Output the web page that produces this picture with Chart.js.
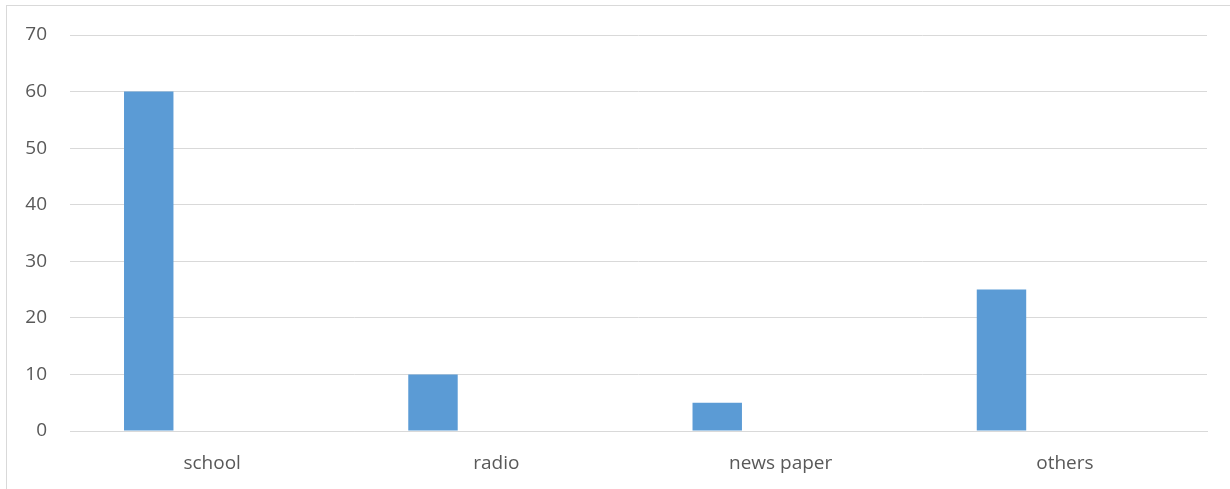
<!DOCTYPE html>
<html>
<head>
<meta charset="utf-8">
<title>Sources</title>
<script src="https://cdn.jsdelivr.net/npm/chart.js@4/dist/chart.umd.min.js"></script>
<style>
    html, body { margin: 0; padding: 0; background: #ffffff; }
    #wrap { width: 1230px; height: 489px; position: relative; }
</style>
</head>
<body>
<div id="wrap"><canvas id="sourceChart"></canvas></div>
<script>
const sources = ['school', 'radio', 'news paper', 'others'];
const percentValues = [60, 10, 5, 25];
const secondValues = [null, null, null, null];
const yTicks = [0, 10, 20, 30, 40, 50, 60, 70];

// light frame around the chart area
const frame = {
    id: 'frame',
    beforeDraw(chart) {
        const ctx = chart.ctx;
        ctx.save();
        ctx.strokeStyle = '#d9d9d9';
        ctx.lineWidth = 1;
        ctx.strokeRect(6.5, 5.5, chart.width + 10, chart.height + 10);
        ctx.restore();
    }
};

document.addEventListener("DOMContentLoaded", function () {
    const ctx = document.getElementById('sourceChart').getContext('2d');
    new Chart(ctx, {
        type: 'bar',
        data: {
            labels: sources,
            datasets: [{
                label: 'Series1',
                data: percentValues,
                backgroundColor: '#5b9bd5',
                borderWidth: 0,
                categoryPercentage: 0.892,
                barPercentage: 0.39
            }, {
                label: 'Series2',
                data: secondValues,
                backgroundColor: '#ed7d31',
                borderWidth: 0,
                categoryPercentage: 0.892,
                barPercentage: 0.39
            }]
        },
        options: {
            responsive: true,
            maintainAspectRatio: false,
            animation: false,
            layout: {
                padding: { top: 35, right: 23, left: 0, bottom: 0 }
            },
            plugins: {
                legend: { display: false },
                tooltip: { enabled: false }
            },
            scales: {
                x: {
                    grid: { display: false, drawTicks: false },
                    border: { color: '#d9d9d9', width: 1 },
                    ticks: {
                        color: '#595959',
                        font: { family: 'Open Sans', size: 19 },
                        padding: 21
                    },
                    afterFit: function (scale) { scale.height = 58; }
                },
                y: {
                    min: 0,
                    max: 70,
                    afterBuildTicks: function (scale) {
                        scale.ticks = yTicks.map(v => ({ value: v }));
                    },
                    grid: { color: '#d9d9d9', lineWidth: 1, drawTicks: false },
                    border: { display: false },
                    ticks: {
                        color: '#595959',
                        font: { family: 'Open Sans', size: 19 },
                        padding: 23
                    },
                    afterFit: function (scale) { scale.width = 70; }
                }
            }
        },
        plugins: [frame]
    });
});
</script>
</body>
</html>
